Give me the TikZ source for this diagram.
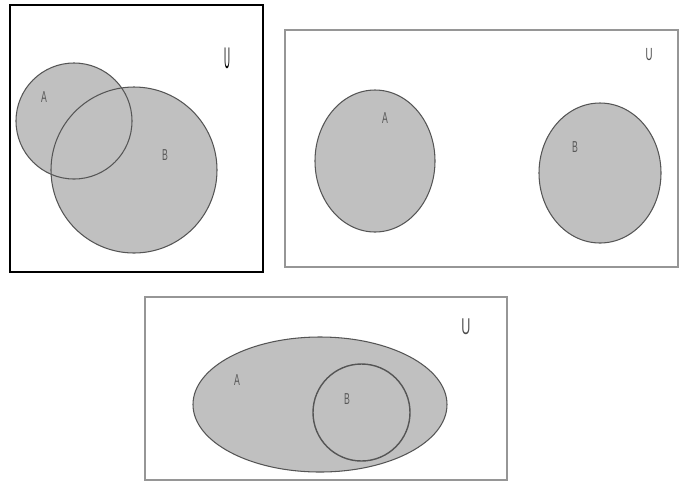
\documentclass[tikz,border=0pt]{standalone}
\usepackage{fontspec}
\newfontfamily\labelfont{Liberation Sans}
\definecolor{setfill}{RGB}{192,192,192}
\definecolor{setline}{RGB}{85,85,85}
\definecolor{boxline}{RGB}{150,150,150}
\tikzset{
    setpart/.style={fill=setfill},
    setedge/.style={draw=setline, line width=0.6pt},
    setname/.style={font=\labelfont\fontsize{9}{9}\selectfont, text=black!65, inner sep=0pt, xscale=0.55},
    univ/.style={font=\labelfont\fontsize{10}{10}\selectfont, text=black!70, inner sep=0pt, xscale=0.55}
}
\begin{document}
\begin{tikzpicture}[x=0.02cm, y=-0.02cm]
    \useasboundingbox (0,0) rectangle (679,481);

    % overlapping sets
    \begin{scope}
        \draw[black, line width=1pt] (10,5) rectangle (263,272);
        \coordinate (cA) at (74,121);
        \coordinate (cB) at (134,170);
        \fill[setpart] (cA) circle (58);
        \fill[setpart] (cB) circle (83);
        \draw[setedge] (cA) circle (58);
        \draw[setedge] (cB) circle (83);
        \node[setname] (lA) at (44,97) {A};
        \node[setname] (lB) at (165,155) {B};
        \node[univ, font=\labelfont\fontsize{17}{17}\selectfont, text=black, xscale=0.5] (lU) at (227,58) {U};
    \end{scope}

    % disjoint sets
    \begin{scope}
        \draw[boxline, line width=0.6pt] (285,30) rectangle (678,267);
        \coordinate (dA) at (375,161);
        \coordinate (dB) at (600,173);
        \draw[setpart, setedge] (dA) ellipse (60 and 71);
        \draw[setpart, setedge] (dB) ellipse (61 and 70);
        \node[setname] (mA) at (385,118) {A};
        \node[setname] (mB) at (575,147) {B};
        \node[univ] (mU) at (649,55) {U};
    \end{scope}

    % subset
    \begin{scope}
        \draw[boxline, line width=0.6pt] (145,297) rectangle (507,480);
        \coordinate (eA) at (320,404.5);
        \coordinate (eB) at (361.5,412.5);
        \draw[setpart, setedge] (eA) ellipse (127 and 67.5);
        \draw[setedge, line width=0.8pt] (eB) circle (48.5);
        \node[setname] (nA) at (237,380) {A};
        \node[setname] (nB) at (347,399) {B};
        \node[univ, font=\labelfont\fontsize{13}{13}\selectfont] (nU) at (466,327) {U};
    \end{scope}
\end{tikzpicture}
\end{document}
